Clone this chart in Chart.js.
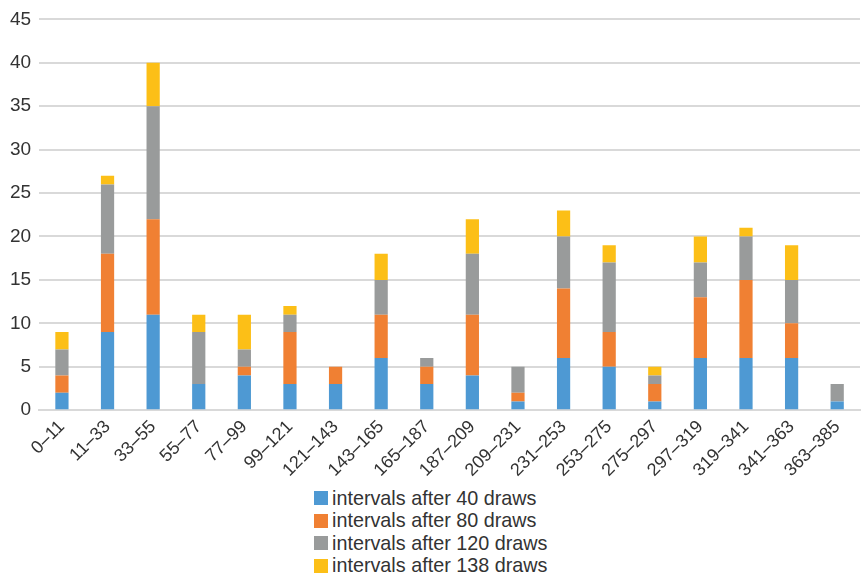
<!DOCTYPE html>
<html>
<head>
<meta charset="utf-8">
<script src="https://cdn.jsdelivr.net/npm/chart.js@4/dist/chart.umd.min.js"></script>
<style>
  html, body { margin: 0; padding: 0; background: #fff; }
  #wrap { position: relative; width: 865px; height: 577px; font-family: "Liberation Sans", Arial, sans-serif; }
  #chartBox { position: absolute; left: 0; top: 0; width: 865px; height: 487px; }
  #legend { position: absolute; left: 314px; top: 487px; font-size: 19.8px; color: #333; }
  #legend div { display: flex; align-items: center; height: 22.5px; }
  #legend span.sw { display: inline-block; width: 14px; height: 14px; margin-right: 4px; }
</style>
</head>
<body>
<div id="wrap">
  <div id="chartBox"><canvas id="c"></canvas></div>
  <div id="legend"></div>
</div>
<script>
// Interval bins
const categories = ["0–11","11–33","33–55","55–77","77–99","99–121","121–143","143–165","165–187",
  "187–209","209–231","231–253","253–275","275–297","297–319","319–341","341–363","363–385"];

// Counts per bin for each stage
const after40  = [2, 9, 11, 3, 4, 3, 3, 6, 3, 4, 1, 6, 5, 1, 6, 6, 6, 1];
const after80  = [2, 9, 11, 0, 1, 6, 2, 5, 2, 7, 1, 8, 4, 2, 7, 9, 4, 0];
const after120 = [3, 8, 13, 6, 2, 2, 0, 4, 1, 7, 3, 6, 8, 1, 4, 5, 5, 2];
const after138 = [2, 1, 5, 2, 4, 1, 0, 3, 0, 4, 0, 3, 2, 1, 3, 1, 4, 0];

const seriesNames = ["intervals after 40 draws", "intervals after 80 draws",
  "intervals after 120 draws", "intervals after 138 draws"];

// Y axis ticks
const yTicks = [0, 5, 10, 15, 20, 25, 30, 35, 40, 45];

const colors = ["#4e99d3", "#f08033", "#999b9b", "#fcbf17"];
const values = [after40, after80, after120, after138];

const datasets = values.map((v, i) => ({
  label: seriesNames[i],
  data: v,
  backgroundColor: colors[i],
  borderWidth: 0,
  categoryPercentage: 1.0,
  barPercentage: 0.29
}));

Chart.defaults.font.family = '"Liberation Sans", Arial, sans-serif';
Chart.defaults.color = '#333';

const chart = new Chart(document.getElementById('c'), {
  type: 'bar',
  data: { labels: categories, datasets },
  options: {
    responsive: true,
    maintainAspectRatio: false,
    animation: false,
    layout: { padding: { left: 2, right: 5, top: 4, bottom: 0 } },
    plugins: { legend: { display: false }, tooltip: { enabled: false } },
    scales: {
      x: {
        stacked: true,
        grid: { display: false, drawTicks: false },
        border: { display: true, color: '#d9d9d9', width: 2 },
        ticks: { font: { size: 18 }, color: '#333', maxRotation: 45, minRotation: 45, autoSkip: false, padding: 6 }
      },
      y: {
        stacked: true,
        min: 0, max: 45,
        afterBuildTicks: (s) => { s.ticks = yTicks.map(v => ({ value: v })); },
        grid: { color: '#d9d9d9', lineWidth: 2, drawTicks: false },
        border: { display: false },
        ticks: { font: { size: 19 }, color: '#333', padding: 8 }
      }
    }
  }
});

// Vertical legend list under the plot
const lg = document.getElementById('legend');
chart.data.datasets.forEach(ds => {
  const row = document.createElement('div');
  const sw = document.createElement('span');
  sw.className = 'sw';
  sw.style.background = ds.backgroundColor;
  row.appendChild(sw);
  row.appendChild(document.createTextNode(ds.label));
  lg.appendChild(row);
});
</script>
</body>
</html>
